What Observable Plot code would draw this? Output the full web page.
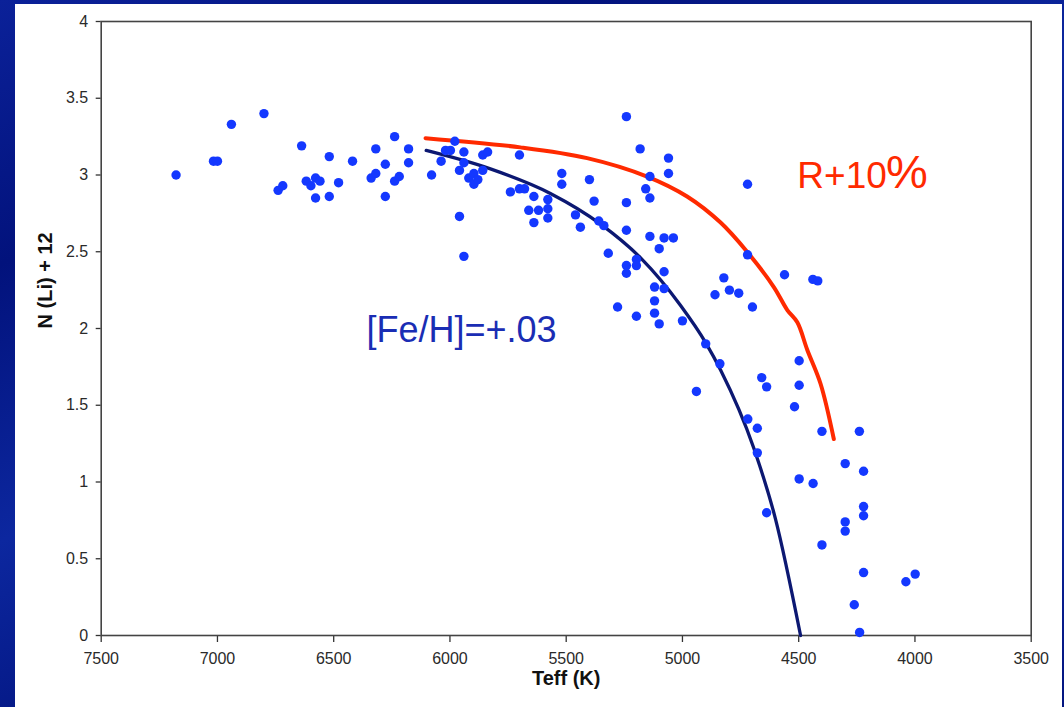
<!DOCTYPE html>
<html>
<head>
<meta charset="utf-8">
<script src="https://cdn.jsdelivr.net/npm/d3@7"></script>
<script src="https://cdn.jsdelivr.net/npm/@observablehq/plot@0.6"></script>
<style>
  html, body { margin: 0; padding: 0; }
  body {
    width: 1064px; height: 707px; overflow: hidden; position: relative;
    background: linear-gradient(155deg, #0b2199 0%, #02127c 22%, #0c279f 45%, #031580 65%, #0a2297 85%, #031580 100%);
  }
  #paper { position: absolute; left: 15px; top: 4px; width: 1047px; height: 703px; background: #fff; }
  #chart { position: absolute; left: 0; top: 0; }
</style>
</head>
<body>
<div id="paper"></div>
<div id="chart"></div>
<script>
// Stars: effective temperature (K) and lithium abundance N(Li)+12
const starTeff = [7178, 7017, 7000, 6940, 6800, 6739, 6719, 6638, 6618, 6598, 6578, 6559, 6578, 6519, 6519, 6479, 6419, 6339, 6319, 6319,
  6278, 6278, 6238, 6238, 6218, 6178, 6178, 6079, 6038, 6019, 5998, 5979, 5959, 5959, 5940, 5940, 5940, 5919, 5897, 5897,
  5880, 5859, 5838, 5859, 5701, 5740, 5701, 5679, 5639, 5661, 5619, 5639, 5579, 5579, 5579, 5519, 5519, 5460, 5439, 5400,
  5380, 5360, 5338, 5319, 5241, 5241, 5241, 5241, 5241, 5198, 5198, 5182, 5158, 5140, 5140, 5100, 5079, 5039, 5079, 5120,
  5079, 5120, 5060, 5060, 5279, 5198, 5120, 5100, 5000, 4822, 4860, 4798, 4758, 4699, 4720, 4720, 4561, 4439, 4418, 4900,
  4839, 4940, 4498, 4659, 4638, 4498, 4518, 4719, 4678, 4400, 4239, 4678, 4300, 4221, 4498, 4438, 4638, 4221, 4221, 4300,
  4300, 4400, 4221, 3999, 4039, 4261, 4238, 5140];
const starLi = [3.00, 3.09, 3.09, 3.33, 3.40, 2.90, 2.93, 3.19, 2.96, 2.93, 2.98, 2.96, 2.85, 3.12, 2.86, 2.95, 3.09, 2.98, 3.01, 3.17,
  3.07, 2.86, 3.25, 2.96, 2.99, 3.17, 3.08, 3.00, 3.09, 3.16, 3.16, 3.22, 3.03, 2.73, 3.15, 3.08, 2.47, 2.98, 3.01, 2.94,
  2.97, 3.13, 3.15, 3.03, 3.13, 2.89, 2.91, 2.91, 2.86, 2.77, 2.77, 2.69, 2.84, 2.78, 2.72, 3.01, 2.94, 2.74, 2.66, 2.97,
  2.83, 2.70, 2.67, 2.49, 3.38, 2.82, 2.64, 2.41, 2.36, 2.45, 2.41, 3.17, 2.91, 2.85, 2.60, 2.52, 2.59, 2.59, 2.37, 2.27,
  2.26, 2.18, 3.11, 3.01, 2.14, 2.08, 2.10, 2.03, 2.05, 2.33, 2.22, 2.25, 2.23, 2.14, 2.94, 2.48, 2.35, 2.32, 2.31, 1.90,
  1.77, 1.59, 1.79, 1.68, 1.62, 1.63, 1.49, 1.41, 1.35, 1.33, 1.33, 1.19, 1.12, 1.07, 1.02, 0.99, 0.80, 0.84, 0.78, 0.74,
  0.68, 0.59, 0.41, 0.40, 0.35, 0.20, 0.02, 2.99];

// Model curve [Fe/H]=+.03
const feTeff = [6102, 5826, 5568, 5352, 5180, 5008, 4901, 4836, 4693, 4600, 4492];
const feLi   = [3.16, 3.04, 2.88, 2.68, 2.46, 2.15, 1.91, 1.73, 1.22, 0.76, 0.00];

// Model curve R+10%
const rTeff = [6105, 5697, 5410, 5152, 4980, 4836, 4722, 4607, 4549, 4506, 4463, 4406, 4349];
const rLi   = [3.24, 3.18, 3.11, 2.99, 2.86, 2.69, 2.50, 2.27, 2.12, 2.04, 1.86, 1.64, 1.28];

const xTicks = [7500, 7000, 6500, 6000, 5500, 5000, 4500, 4000, 3500];
const yTicks = [0, 0.5, 1, 1.5, 2, 2.5, 3, 3.5, 4];

const xLabel = "Teff (K)";
const yLabel = "N (Li) + 12";
const feLabel = "[Fe/H]=+.03";
const rLabel = "R+10";
const rLabelPct = "%";

const stars = starTeff.map((t, i) => ({teff: t, li: starLi[i]}));
const feCurve = feTeff.map((t, i) => ({teff: t, li: feLi[i]}));
const rCurve = rTeff.map((t, i) => ({teff: t, li: rLi[i]}));

const font = "'Liberation Sans', Arial, Helvetica, sans-serif";

const chart = Plot.plot({
  width: 1064,
  height: 707,
  marginLeft: 100.7,
  marginRight: 33.3,
  marginTop: 21,
  marginBottom: 72,
  style: {background: "transparent", fontFamily: font, fontSize: "16px", color: "#222"},
  x: {domain: [7500, 3500], ticks: xTicks},
  y: {domain: [0, 4], ticks: yTicks},
  marks: [
    Plot.axisX({ticks: xTicks, tickSize: 7, tickPadding: 10, tickFormat: d => String(d), label: null, stroke: "#333", strokeWidth: 1.3, fill: "#2a2a2a", fontSize: 16}),
    Plot.axisY({ticks: yTicks, tickSize: 5, tickPadding: 8, tickFormat: d => String(d), label: null, stroke: "#333", strokeWidth: 1.3, fill: "#2a2a2a", fontSize: 16}),
    Plot.frame({stroke: "#444", strokeWidth: 1.6}),
    Plot.line(rCurve, {x: "teff", y: "li", stroke: "#ff2a00", strokeWidth: 4, curve: "catmull-rom"}),
    Plot.line(feCurve, {x: "teff", y: "li", stroke: "#0c1872", strokeWidth: 3.3, curve: "monotone-x"}),
    Plot.dot(stars, {x: "teff", y: "li", r: 4.7, fill: "#1438ff", stroke: "none"}),
    Plot.text([feLabel], {x: 6359, y: 1.91, text: d => d, textAnchor: "start", lineAnchor: "bottom", fill: "#1a2db4", fontSize: 36}),
    Plot.text([rLabel], {x: 4506, y: 2.917, text: d => d, textAnchor: "start", lineAnchor: "bottom", fill: "#ff2a00", fontSize: 37}),
    Plot.text([rLabelPct], {x: 4124, y: 2.917, text: d => d, textAnchor: "start", lineAnchor: "bottom", fill: "#ff2a00", fontSize: 47}),
    Plot.text([xLabel], {frameAnchor: "bottom", dy: 49, text: d => d, fontWeight: "bold", fontSize: 20, fill: "#111"}),
    Plot.text([yLabel], {frameAnchor: "left", dx: -56, rotate: -90, text: d => d, fontWeight: "bold", fontSize: 20, fill: "#111"})
  ]
});
document.getElementById("chart").appendChild(chart);
</script>
</body>
</html>
